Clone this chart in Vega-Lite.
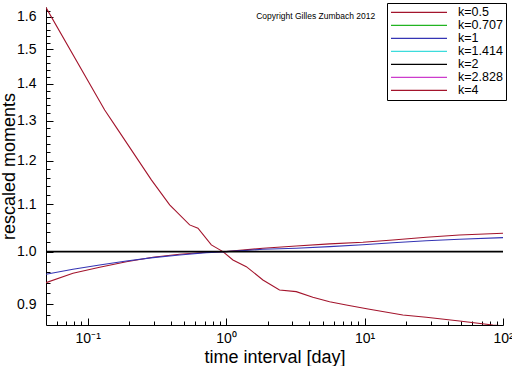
{
  "$schema": "https://vega.github.io/schema/vega-lite/v6.json",
  "width": 457,
  "height": 318,
  "autosize": {"type": "none"},
  "padding": {"left": 46, "top": 7, "right": 9, "bottom": 41},
  "background": "white",
  "config": {"view": {"stroke": null}, "font": "Liberation Sans"},
  "layer": [
    {
      "data": {
        "values": [
          {"k": "k=4", "t": 0.05, "m": 1.63},
          {"k": "k=4", "t": 0.1327, "m": 1.328},
          {"k": "k=4", "t": 0.1655, "m": 1.276},
          {"k": "k=4", "t": 0.2884, "m": 1.1545},
          {"k": "k=4", "t": 0.391, "m": 1.098},
          {"k": "k=4", "t": 0.545, "m": 1.055},
          {"k": "k=4", "t": 0.626, "m": 1.048},
          {"k": "k=4", "t": 0.782, "m": 1.0135},
          {"k": "k=4", "t": 0.948, "m": 1.0},
          {"k": "k=4", "t": 1.12, "m": 0.9835},
          {"k": "k=4", "t": 1.399, "m": 0.9704},
          {"k": "k=4", "t": 1.844, "m": 0.9449},
          {"k": "k=4", "t": 2.43, "m": 0.9261},
          {"k": "k=4", "t": 3.21, "m": 0.923},
          {"k": "k=4", "t": 4.23, "m": 0.9127},
          {"k": "k=4", "t": 5.59, "m": 0.9046},
          {"k": "k=4", "t": 7.38, "m": 0.8987},
          {"k": "k=4", "t": 10.6, "m": 0.8915},
          {"k": "k=4", "t": 18.9, "m": 0.8809},
          {"k": "k=4", "t": 27.9, "m": 0.8769},
          {"k": "k=4", "t": 48.5, "m": 0.8703},
          {"k": "k=4", "t": 84.4, "m": 0.8634},
          {"k": "k=4", "t": 100, "m": 0.862},
          {"k": "k=0.5", "t": 0.05, "m": 0.9398},
          {"k": "k=0.5", "t": 0.0783, "m": 0.9576},
          {"k": "k=0.5", "t": 0.122, "m": 0.9692},
          {"k": "k=0.5", "t": 0.1903, "m": 0.98},
          {"k": "k=0.5", "t": 0.296, "m": 0.9888},
          {"k": "k=0.5", "t": 0.4617, "m": 0.9948},
          {"k": "k=0.5", "t": 0.719, "m": 0.9988},
          {"k": "k=0.5", "t": 1.0, "m": 1.0},
          {"k": "k=0.5", "t": 1.844, "m": 1.0068},
          {"k": "k=0.5", "t": 3.21, "m": 1.0115},
          {"k": "k=0.5", "t": 5.59, "m": 1.0156},
          {"k": "k=0.5", "t": 9.72, "m": 1.019},
          {"k": "k=0.5", "t": 16.0, "m": 1.0237},
          {"k": "k=0.5", "t": 27.9, "m": 1.0293},
          {"k": "k=0.5", "t": 48.5, "m": 1.034},
          {"k": "k=0.5", "t": 100, "m": 1.0375},
          {"k": "k=1", "t": 0.05, "m": 0.9557},
          {"k": "k=1", "t": 0.0783, "m": 0.9654},
          {"k": "k=1", "t": 0.122, "m": 0.9737},
          {"k": "k=1", "t": 0.1903, "m": 0.9815},
          {"k": "k=1", "t": 0.296, "m": 0.988},
          {"k": "k=1", "t": 0.4617, "m": 0.9934},
          {"k": "k=1", "t": 0.719, "m": 0.998},
          {"k": "k=1", "t": 1.0, "m": 1.0},
          {"k": "k=1", "t": 1.844, "m": 1.0048},
          {"k": "k=1", "t": 3.21, "m": 1.0068},
          {"k": "k=1", "t": 5.59, "m": 1.01},
          {"k": "k=1", "t": 9.72, "m": 1.014},
          {"k": "k=1", "t": 16.0, "m": 1.018},
          {"k": "k=1", "t": 27.9, "m": 1.022},
          {"k": "k=1", "t": 48.5, "m": 1.025},
          {"k": "k=1", "t": 100, "m": 1.0285},
          {"k": "k=2", "t": 0.05, "m": 1.0},
          {"k": "k=2", "t": 100, "m": 1.0}
        ]
      },
      "mark": {"type": "line", "clip": true},
      "encoding": {
        "x": {
          "field": "t",
          "type": "quantitative",
          "scale": {"type": "log", "domain": [0.05, 100], "nice": false},
          "axis": {
            "values": [0.06, 0.07, 0.08, 0.09, 0.1, 0.2, 0.3, 0.4, 0.5, 0.6, 0.7, 0.8, 0.9, 1, 2, 3, 4, 5, 6, 7, 8, 9, 10, 20, 30, 40, 50, 60, 70, 80, 90, 100],
            "labelExpr": "datum.value == 0.1 ? '10⁻¹' : datum.value == 1 ? '10⁰' : datum.value == 10 ? '10¹' : datum.value == 100 ? '10²' : ''",
            "tickSize": {"condition": {"test": "datum.value == 0.1 || datum.value == 1 || datum.value == 10 || datum.value == 100", "value": -7}, "value": -4},
            "labelPadding": 13,
            "labelFontSize": 14,
            "labelColor": "black",
            "labelOverlap": false,
            "labelFlush": false,
            "tickColor": "black",
            "domainColor": "black",
            "grid": false,
            "title": "time interval [day]",
            "titleFontSize": 18,
            "titleFontWeight": "normal",
            "titleColor": "black",
            "titlePadding": 0
          }
        },
        "y": {
          "field": "m",
          "type": "quantitative",
          "scale": {"type": "log", "domain": [0.8634, 1.632], "nice": false, "zero": false},
          "axis": {
            "values": [0.88, 0.9, 0.92, 0.94, 0.96, 0.98, 1.0, 1.02, 1.04, 1.06, 1.08, 1.1, 1.12, 1.14, 1.16, 1.18, 1.2, 1.22, 1.24, 1.26, 1.28, 1.3, 1.32, 1.34, 1.36, 1.38, 1.4, 1.42, 1.44, 1.46, 1.48, 1.5, 1.52, 1.54, 1.56, 1.58, 1.6, 1.62],
            "labelExpr": "abs(datum.value * 10 - round(datum.value * 10)) < 0.001 ? format(datum.value, '.1f') : ''",
            "tickSize": {"condition": {"test": "abs(datum.value * 10 - round(datum.value * 10)) < 0.001", "value": -7}, "value": -4},
            "labelPadding": 17,
            "labelFontSize": 14,
            "labelColor": "black",
            "labelOverlap": false,
            "labelFlush": false,
            "tickColor": "black",
            "domainColor": "black",
            "grid": false,
            "title": "rescaled moments",
            "titleFontSize": 18,
            "titleFontWeight": "normal",
            "titleColor": "black",
            "titlePadding": -2
          }
        },
        "color": {
          "field": "k",
          "type": "nominal",
          "scale": {
            "domain": ["k=0.5", "k=0.707", "k=1", "k=1.414", "k=2", "k=2.828", "k=4"],
            "range": ["#a3142c", "#22b422", "#3434b4", "#3cdcdc", "#000000", "#cc3ccc", "#a3142c"]
          },
          "legend": {
            "orient": "none",
            "legendX": 341,
            "legendY": -4,
            "title": null,
            "symbolType": "stroke",
            "symbolSize": 3136,
            "symbolStrokeWidth": 1.3,
            "clipHeight": 12.9,
            "rowPadding": 0,
            "labelFontSize": 12.5,
            "labelOffset": 10,
            "labelColor": "black",
            "strokeColor": "black",
            "fillColor": "white",
            "padding": 3
          }
        },
        "strokeWidth": {"condition": {"test": "datum.k == 'k=2'", "value": 1.6}, "value": 1.1}
      }
    },
    {
      "data": {"values": [{"t": 1.65, "m": 1.603, "label": "Copyright Gilles Zumbach 2012"}]},
      "mark": {"type": "text", "align": "left", "baseline": "middle", "fontSize": 8.5, "color": "black"},
      "encoding": {
        "x": {"field": "t", "type": "quantitative"},
        "y": {"field": "m", "type": "quantitative"},
        "text": {"field": "label"}
      }
    }
  ]
}
